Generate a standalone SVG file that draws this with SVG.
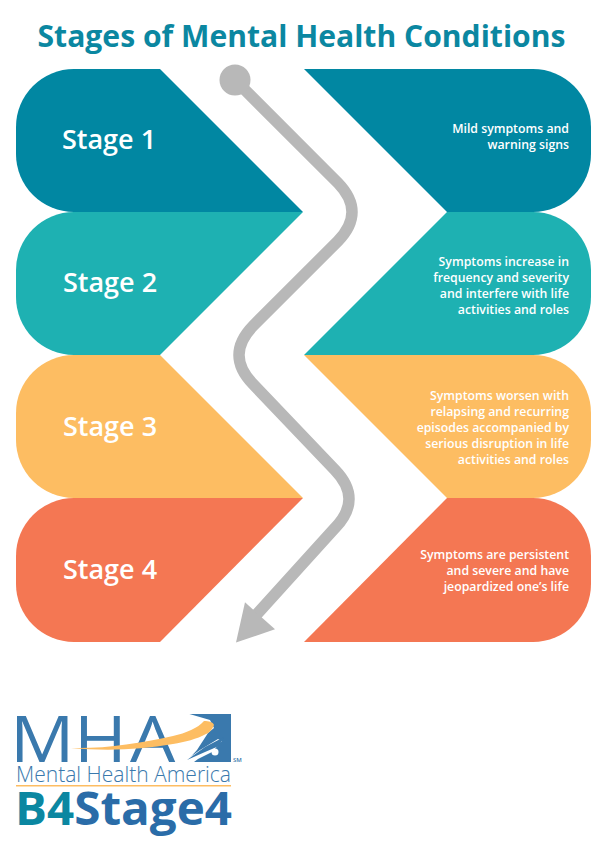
<svg xmlns="http://www.w3.org/2000/svg" width="600" height="852" viewBox="0 0 600 852">
<style>
text{font-family:"Open Sans","Noto Sans","Liberation Sans",sans-serif}
.title{font-size:30.1px;font-weight:700;fill:#0b87a1;text-anchor:middle}
.stage{font-size:27px;font-weight:600;fill:#fff;text-anchor:middle}
.desc{font-size:12.3px;font-weight:600;fill:#fff;text-anchor:end}
.s1{fill:#0187a2}.s2{fill:#1eb1b2}.s3{fill:#fdbd62}.s4{fill:#f47753}
</style>
<rect width="600" height="852" fill="#fff"/>
<text class="title" x="301.500" y="47">Stages of Mental Health Conditions</text>
<g id="stage1">
<path class="s1" d="M160,69H74A58,58 0 0 0 16,127V154A58,58 0 0 0 74,212H303Z"/>
<path class="s1" d="M304,69H533A58,58 0 0 1 591,127V154A58,58 0 0 1 533,212H447Z"/>
<text class="stage" x="109" y="149">Stage 1</text>
<text class="desc" x="569" y="133">Mild symptoms and</text>
<text class="desc" x="569" y="149">warning signs</text>
</g>
<g id="stage2">
<path class="s2" d="M303,212H74A58,58 0 0 0 16,270V297A58,58 0 0 0 74,355H160Z"/>
<path class="s2" d="M447,212H533A58,58 0 0 1 591,270V297A58,58 0 0 1 533,355H304Z"/>
<text class="stage" x="110" y="292">Stage 2</text>
<text class="desc" x="569" y="266">Symptoms increase in</text>
<text class="desc" x="569" y="282">frequency and severity</text>
<text class="desc" x="569" y="298">and interfere with life</text>
<text class="desc" x="569" y="314">activities and roles</text>
</g>
<g id="stage3">
<path class="s3" d="M160,355H74A58,58 0 0 0 16,413V440A58,58 0 0 0 74,498H303Z"/>
<path class="s3" d="M304,355H533A58,58 0 0 1 591,413V440A58,58 0 0 1 533,498H447Z"/>
<text class="stage" x="110" y="436">Stage 3</text>
<text class="desc" x="569" y="400">Symptoms worsen with</text>
<text class="desc" x="569" y="416">relapsing and recurring</text>
<text class="desc" x="569" y="432">episodes accompanied by</text>
<text class="desc" x="569" y="448">serious disruption in life</text>
<text class="desc" x="569" y="464">activities and roles</text>
</g>
<g id="stage4">
<path class="s4" d="M303,498H74A58,58 0 0 0 16,556V584A58,58 0 0 0 74,642H160Z"/>
<path class="s4" d="M447,498H533A58,58 0 0 1 591,556V584A58,58 0 0 1 533,642H304Z"/>
<text class="stage" x="110" y="579">Stage 4</text>
<text class="desc" x="569" y="559">Symptoms are persistent</text>
<text class="desc" x="569" y="575">and severe and have</text>
<text class="desc" x="569" y="591">jeopardized one’s life</text>
</g>
<g id="connectors">
<path d="M235,80L338,183Q366,212 338,241L253,326Q225,355 253,384L335,470Q363,499 335,528L248,624" fill="none" stroke="#b8b8b8" stroke-width="11.500"/>
<circle cx="235" cy="80" r="15.500" fill="#b8b8b8"/>
<polygon points="236,642.600 275,629.300 245,602.300" fill="#b8b8b8"/>
</g>
<g id="logo">
<rect x="187" y="714" width="44" height="48" fill="#3a79ad"/>
<path d="M186,713L210,720L214,728L208,733L197,750L186,762Z" fill="#fff"/>
<path d="M183,762L200,750L218,739L222,741L212,752L198,759L194,762Z" fill="#fff"/>
<path d="M187,760L205,747L224,737L219,746L205,752Z" fill="#3a79ad"/>
<circle cx="215" cy="752" r="3.500" fill="#fff"/>
<text transform="scale(1.12 1)" y="762" font-size="64" font-weight="400" fill="#3a79ad" x="9 66 116">MHA</text>
<path d="M71,748C105,749 140,743 173,736C186,733 198,728 204,721C209,721 213,722 214,725C212,730 209,733 206,734C197,739 185,742 173,744C140,750 105,751 71,748Z" fill="#fdbd62"/>
<text x="233" y="762" font-size="6" font-weight="600" fill="#3a79ad">SM</text>
<text x="16" y="782" font-size="22.500" font-weight="300" fill="#3a79ad" textLength="215" lengthAdjust="spacingAndGlyphs">Mental Health America</text>
<rect x="16" y="785" width="215" height="1.500" fill="#fdbd62"/>
<text x="15" y="825" font-size="46" font-weight="700" fill="#2a6ca8" textLength="217" lengthAdjust="spacingAndGlyphs"><tspan fill="#0b87a1">B4</tspan>Stage4</text>
</g>
</svg>
